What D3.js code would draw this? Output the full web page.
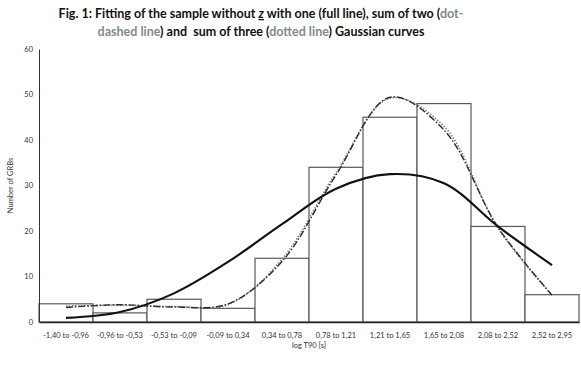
<!DOCTYPE html>
<meta charset="utf-8">
<script src="https://d3js.org/d3.v7.min.js"></script>
<style>
  body { margin: 0; background: #fff; }
  svg { font-family: Lato, "Open Sans", sans-serif; }
</style>
<div id="chart"></div>
<script>

    // categories (log T90 bins) and histogram counts
    var bins = ["-1,40 to -0,96", "-0,96 to -0,53", "-0,53 to -0,09", "-0,09 to 0,34", "0,34 to 0,78",
                "0,78 to 1,21", "1,21 to 1,65", "1,65 to 2,08", "2,08 to 2,52", "2,52 to 2,95"]
    var counts = [4, 2, 5, 3, 14, 34, 45, 48, 21, 6]

    // fitted curves, read at the bin centres
    var oneGauss   = [0.9, 2.2, 6.3, 13.2, 21.5, 29.3, 32.5, 30.5, 21.0, 12.5]
    var twoGauss   = [3.2, 3.8, 3.3, 4.0, 13.3, 32.3, 49.4, 42.2, 20.8, 5.9]
    var threeGauss = [3.5, 3.7, 3.4, 3.8, 13.8, 32.8, 49.2, 43.0, 20.6, 5.9]

    var yTicks = [0, 10, 20, 30, 40, 50, 60]

    var W = 581, H = 376
    var margin = {top: 49, right: 2, bottom: 54, left: 39},
        width = W - margin.left - margin.right,
        height = H - margin.top - margin.bottom;

    var svg = d3.select("#chart")
        .append("svg")
            .attr("width", W)
            .attr("height", H)

    // title
    var title = svg.append("text")
        .attr("text-anchor", "middle")
        .attr("xml:space", "preserve")
        .style("font-weight", "bold")
        .style("font-size", "12.5px")
        .attr("fill", "#111")
    var l1 = title.append("tspan").attr("x", 261).attr("y", 18)
    l1.append("tspan").text("Fig. 1: Fitting of the sample without ")
    l1.append("tspan").text("z").style("font-style", "italic").style("text-decoration", "underline")
    l1.append("tspan").text(" with one (full line), sum of two (")
    l1.append("tspan").text("dot-").attr("fill", "#7d8c8c")
    var l2 = title.append("tspan").attr("x", 261).attr("y", 36)
    l2.append("tspan").text("dashed line").attr("fill", "#7d8c8c")
    l2.append("tspan").text(") and \u00a0sum of three (")
    l2.append("tspan").text("dotted line").attr("fill", "#7d8c8c")
    l2.append("tspan").text(") Gaussian curves")

    var g = svg.append("g")
        .attr("transform", "translate(" + margin.left + "," + margin.top + ")")

    var x = d3.scaleBand()
        .domain(bins)
        .range([0, width])
        .padding(0)

    var y = d3.scaleLinear()
        .domain([0, 60])
        .range([height, 0])

    // histogram bars
    g.selectAll(".bar")
        .data(counts)
        .enter()
        .append("rect")
            .attr("class", "bar")
            .attr("x", function(d, i) { return x(bins[i]) })
            .attr("y", function(d) { return y(d) })
            .attr("width", x.bandwidth())
            .attr("height", function(d) { return height - y(d) })
            .attr("fill", "#fff")
            .attr("stroke", "#595959")
            .attr("stroke-width", 1.2)

    // axes
    var xAxis = g.append("g")
        .attr("transform", "translate(0," + height + ")")
        .call(d3.axisBottom(x).tickSize(0).tickSizeOuter(0).tickPadding(11))
    xAxis.select(".domain").attr("stroke", "#222").attr("stroke-width", 1.3)
    xAxis.selectAll("text")
        .style("font-size", "7.5px")
        .style("font-family", "Lato, sans-serif")
        .attr("fill", "#333")

    var yAxis = g.append("g")
        .call(d3.axisLeft(y).tickValues(yTicks).tickSize(0).tickSizeOuter(0).tickPadding(6))
    yAxis.select(".domain").attr("stroke", "#333")
    yAxis.selectAll("text")
        .style("font-size", "7.5px")
        .style("font-family", "Lato, sans-serif")
        .attr("fill", "#333")

    // axis titles
    g.append("text")
        .attr("transform", "rotate(-90)")
        .attr("x", -y(30))
        .attr("y", -26)
        .attr("text-anchor", "middle")
        .style("font-size", "7.5px")
        .attr("fill", "#333")
        .text("Number of GRBs")

    g.append("text")
        .attr("x", width / 2)
        .attr("y", height + 26)
        .attr("text-anchor", "middle")
        .style("font-size", "7.5px")
        .attr("fill", "#333")
        .text("log T90 [s]")

    // curves
    var line = d3.line()
        .x(function(d, i) { return x(bins[i]) + x.bandwidth() / 2 })
        .y(function(d) { return y(d) })
        .curve(d3.curveCatmullRom.alpha(0.5))

    g.append("path")
        .datum(threeGauss)
        .attr("d", line)
        .attr("fill", "none")
        .attr("stroke", "#7a8585")
        .attr("stroke-width", 1.6)
        .attr("stroke-dasharray", "1.5,1.5")

    g.append("path")
        .datum(twoGauss)
        .attr("d", line)
        .attr("fill", "none")
        .attr("stroke", "#2a2a2a")
        .attr("stroke-width", 1.4)
        .attr("stroke-dasharray", "7,2,1.5,2")

    g.append("path")
        .datum(oneGauss)
        .attr("d", line)
        .attr("fill", "none")
        .attr("stroke", "#111")
        .attr("stroke-width", 2.1)

</script>
